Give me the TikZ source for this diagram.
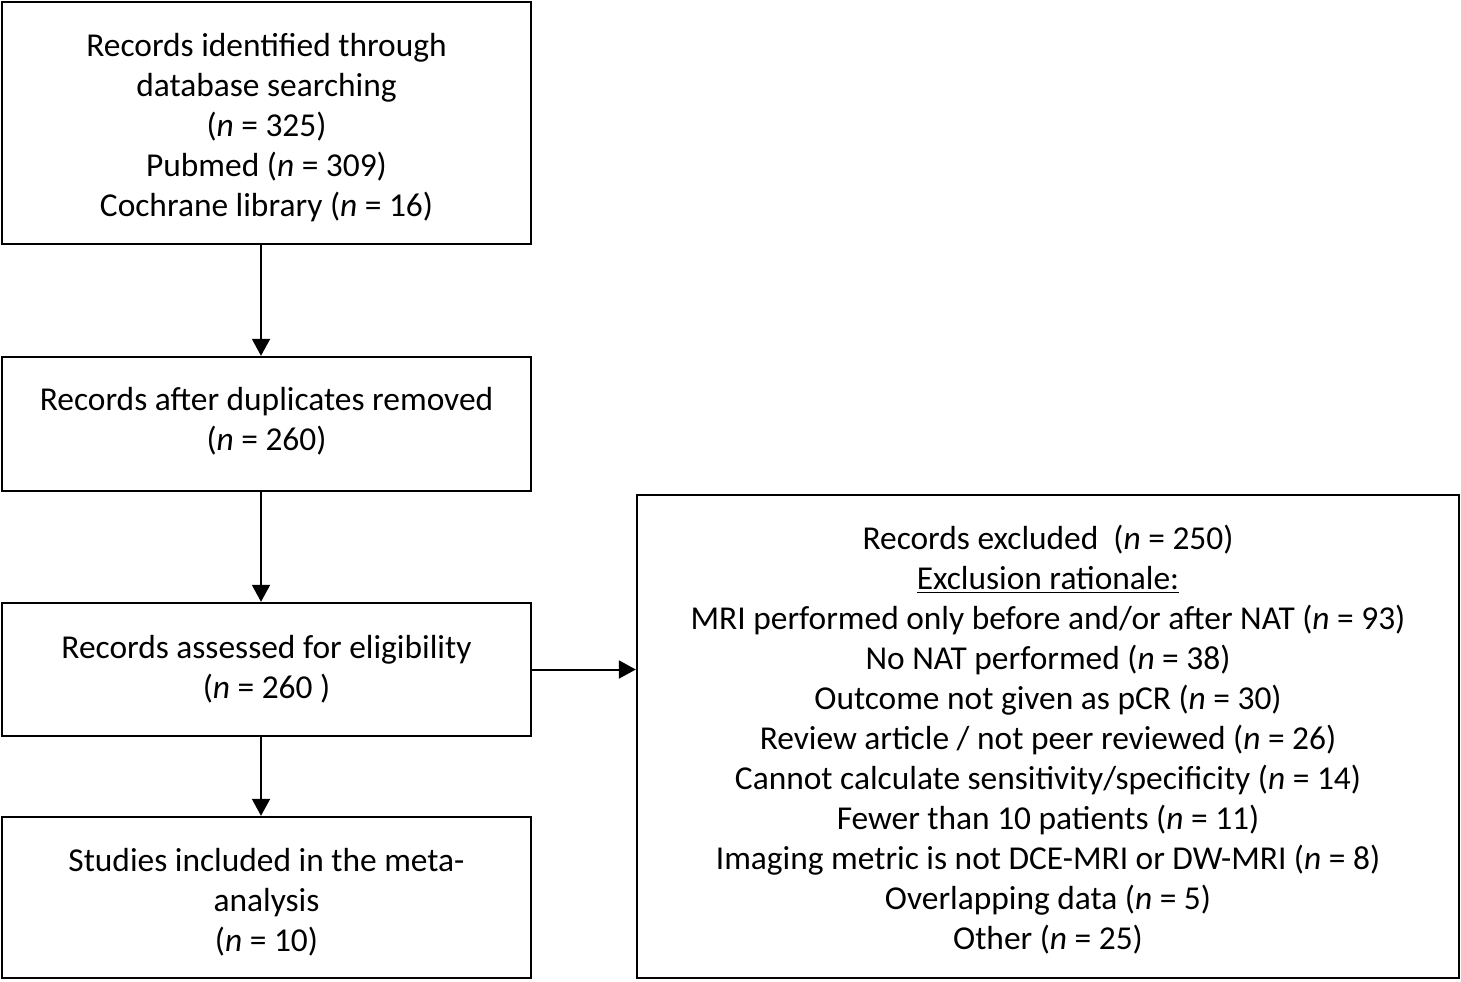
\documentclass[tikz,border=0pt]{standalone}
\usepackage{fontspec}
\setmainfont{Carlito}
\usetikzlibrary{arrows.meta,positioning}
\tikzset{
  box/.style={draw,line width=1.2pt,minimum width=264.5pt,inner sep=0pt},
  txt/.style={align=center,inner sep=0pt,font=\fontsize{16.7}{20}\selectfont},
  arr/.style={line width=1pt,-{Triangle[length=8.5pt,width=9pt]}}
}
\begin{document}
\begin{tikzpicture}[x=0.5pt,y=-0.5pt]
\useasboundingbox (0,0) rectangle (1461,981);
% left column
\node[box,minimum height=121pt] (ident) at (266.5,123) {};
\node[box,minimum height=67pt] (dupl) at (266.5,424) {};
\node[box,minimum height=66.5pt] (elig) at (266.5,669.5) {};
\node[box,minimum height=80.5pt] (incl) at (266.5,897.5) {};
% right box
\node[box,minimum width=411pt,minimum height=241.5pt] (excl) at (1048,736.5) {};

% texts
\node[txt] (identtxt) at ([yshift=-2.5pt]ident.center) {Records identified through\\database searching\\(\textit{n} = 325)\\Pubmed (\textit{n} = 309)\\Cochrane library (\textit{n} = 16)};
\node[txt] (dupltxt) at ([yshift=1.25pt]dupl.center) {Records after duplicates removed\\(\textit{n} = 260)};
\node[txt] (eligtxt) at (elig.center) {Records assessed for eligibility\\(\textit{n} = 260 )};
\node[txt] (incltxt) at ([yshift=-2.25pt]incl.center) {Studies included in the meta-\\analysis\\(\textit{n} = 10)};
\node[txt] (excltxt) at ([yshift=-1.5pt]excl.center) {Records excluded~~(\textit{n} = 250)\\\underline{Exclusion rationale:}\\MRI performed only before and/or after NAT (\textit{n} = 93)\\No NAT performed (\textit{n} = 38)\\Outcome not given as pCR (\textit{n} = 30)\\Review article / not peer reviewed (\textit{n} = 26)\\Cannot calculate sensitivity/specificity (\textit{n} = 14)\\Fewer than 10 patients (\textit{n} = 11)\\Imaging metric is not DCE-MRI or DW-MRI (\textit{n} = 8)\\Overlapping data (\textit{n} = 5)\\Other (\textit{n} = 25)};

\draw[arr] ([xshift=-2.75pt]ident.south) -- ([xshift=-2.75pt]dupl.north);
\draw[arr] ([xshift=-2.75pt]dupl.south) -- ([xshift=-2.75pt]elig.north);
\draw[arr] ([xshift=-2.75pt]elig.south) -- ([xshift=-2.75pt]incl.north);
\draw[arr] (elig.east) -- (elig.east -| excl.west);
\end{tikzpicture}
\end{document}
